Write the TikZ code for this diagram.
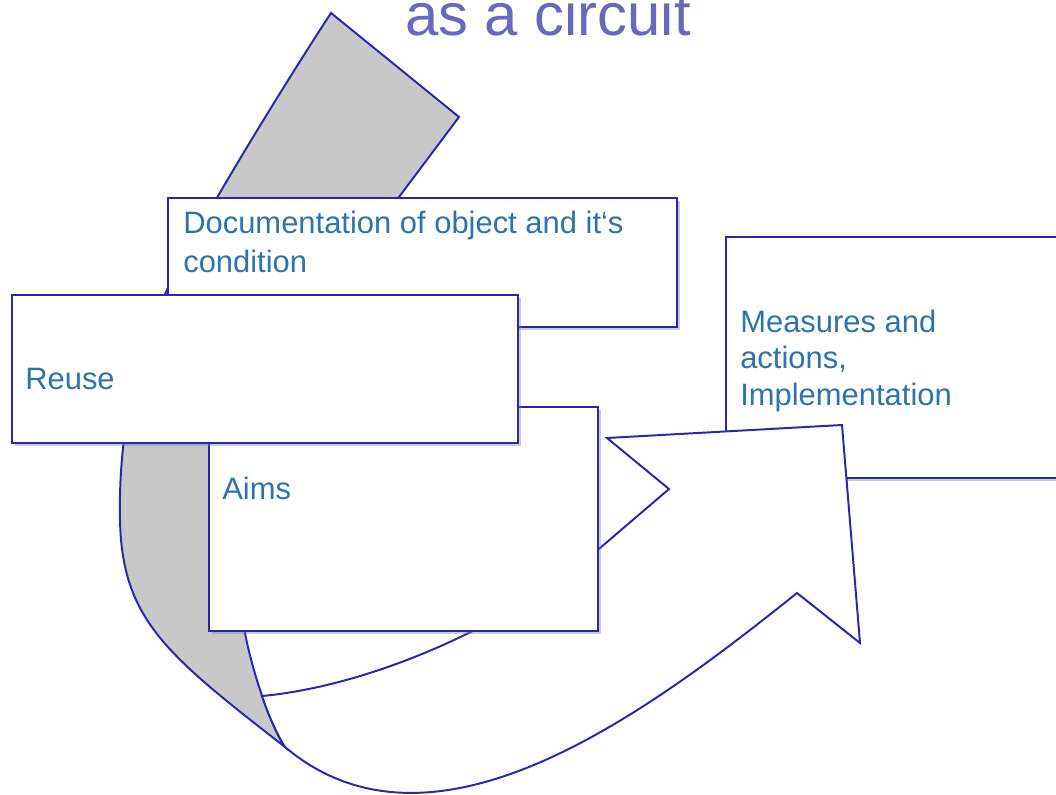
\documentclass[tikz,border=0pt]{standalone}
\usepackage{fontspec}
\setmainfont{Liberation Sans}
\usepackage{tikz}
\usetikzlibrary{shadows}

\definecolor{edgeblue}{RGB}{40,40,175}
\definecolor{textblue}{RGB}{45,115,172}
\definecolor{titleblue}{RGB}{104,104,188}
\definecolor{backgrey}{RGB}{200,200,200}

\tikzset{
  card/.style={draw=edgeblue,line width=2pt,fill=white,
    drop shadow={shadow xshift=1.8pt,shadow yshift=-1.8pt,opacity=.4}},
  cardtext/.style={text=textblue,inner sep=0pt,anchor=base west,align=left,
    font=\fontsize{22}{26}\selectfont},
  band/.style={draw=edgeblue,line width=1.4pt,line join=miter}
}

\begin{document}
\begin{tikzpicture}[x=0.025cm,y=-0.025cm]
\useasboundingbox (0,0) rectangle (1056,794);
%\draw[help lines,step=50] (0,0) grid (1056,794);

\node at (405,36) [anchor=base west,inner sep=0pt,text=titleblue,font=\fontsize{42.5}{50}\selectfont] (title) {as a circuit};

% multi-line texts sit on the baseline of their last line
\draw [card] (726,237) rectangle (1075,478);
\node at (740,405) [cardtext,font=\fontsize{22}{25.9}\selectfont] (measures) {Measures and\\actions,\\Implementation};

% back of the band
\filldraw [band,fill=backgrey] (285,747) .. controls (167,655) and (122,620) .. (120,520)
  .. controls (118,420) and (141,347) .. (166,292)
  .. controls (191,237) and (276,97) .. (331,13)
  -- (459,117) -- (399,197)
  .. controls (340,290) and (250,460) .. (245,633)
  .. controls (252,670) and (270,725) .. (285,747) -- cycle;

% front of the band with its head
\filldraw [band,fill=white] (285,747) .. controls (432,871) and (641,718) .. (797,593)
  -- (860,643) -- (842,425) -- (607,438) -- (669,489) -- (600,548)
  .. controls (509,626) and (370,686) .. (262,696)
  .. controls (269,717) and (278,736) .. (285,747) -- cycle;

\draw [card] (168,198) rectangle (677,327);
\node at (183,272) [cardtext,font=\fontsize{22}{27.6}\selectfont] (documentation) {Documentation of object and it‘s\\condition};

\draw [card] (209,407) rectangle (598,631);
\node at (222,499) [cardtext] (aims) {Aims};

\draw [card] (12,295) rectangle (518,443);
\node at (25,389) [cardtext] (reuse) {Reuse};
\end{tikzpicture}
\end{document}
